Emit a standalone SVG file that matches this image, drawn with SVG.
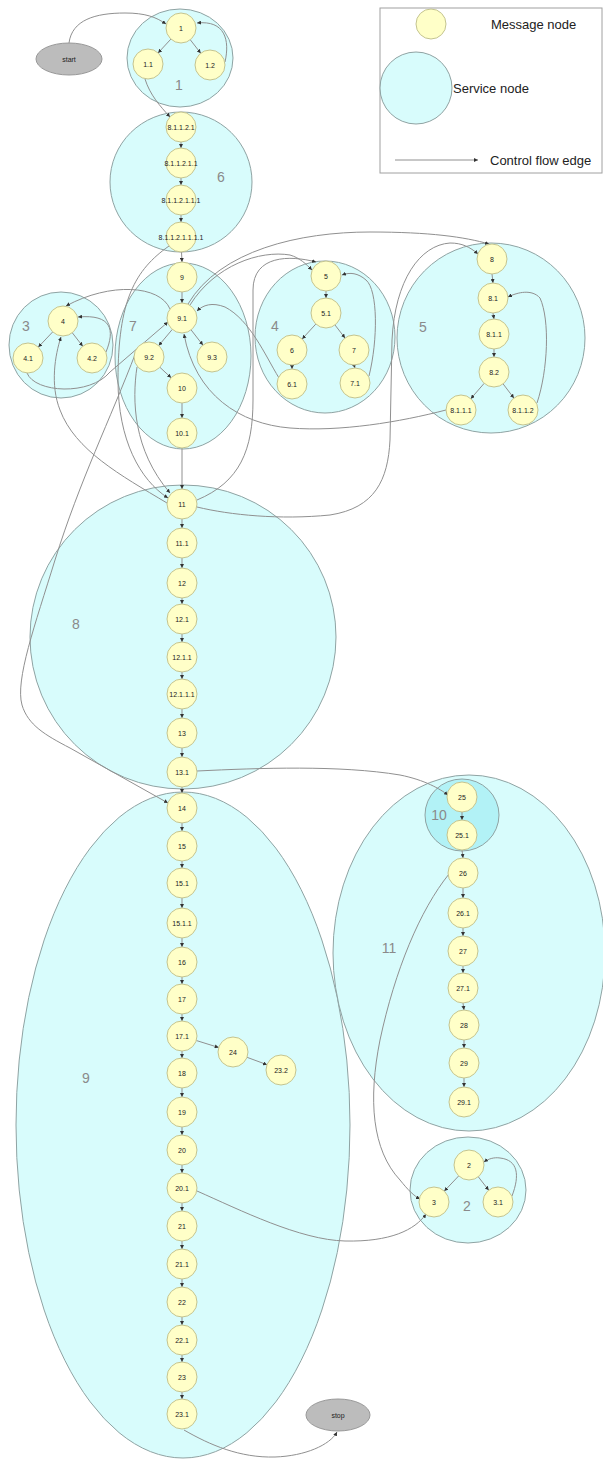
<svg xmlns="http://www.w3.org/2000/svg" width="603" height="1459" viewBox="0 0 603 1459">
<defs>
<marker id="ah" viewBox="0 0 6 6" refX="6" refY="3" markerWidth="4" markerHeight="4" orient="auto">
<path d="M0,0 L6,3 L0,6 z" fill="#333"/>
</marker>
<style>
.svc{fill:#d8fcfc;stroke:#8fa3a3;stroke-width:1}
.svc2{fill:#b2f2f6;stroke:#8fa3a3;stroke-width:1}
.sl{font-family:"Liberation Sans",Arial,sans-serif;font-size:14px;fill:#8a8a8a;text-anchor:middle}
.msg circle{fill:#ffffc8;stroke:#c4c490;stroke-width:1}
.msg text,.term text{font-family:"Liberation Sans",Arial,sans-serif;font-size:7px;fill:#222;text-anchor:middle}
.term ellipse{fill:#bcbcbc;stroke:#999;stroke-width:1}
#edges path,#edges line{fill:none;stroke:#909090;stroke-width:1;marker-end:url(#ah)}
.lg{font-family:"Liberation Sans",Arial,sans-serif;font-size:13px;fill:#222}
</style>
</defs>
<rect width="603" height="1459" fill="#ffffff"/>

<!-- service nodes -->
<g id="s1"><ellipse class="svc" cx="180" cy="58" rx="53" ry="49"/><text class="sl" x="179" y="90">1</text></g>
<g id="s6"><ellipse class="svc" cx="181" cy="182" rx="71" ry="70"/><text class="sl" x="221" y="182">6</text></g>
<g id="s3"><ellipse class="svc" cx="61" cy="345" rx="52" ry="53"/><text class="sl" x="26" y="331">3</text></g>
<g id="s7"><ellipse class="svc" cx="183" cy="356" rx="68" ry="93"/><text class="sl" x="133" y="331">7</text></g>
<g id="s4"><ellipse class="svc" cx="325" cy="337" rx="70" ry="76"/><text class="sl" x="275" y="331">4</text></g>
<g id="s5"><ellipse class="svc" cx="491" cy="338" rx="94" ry="95"/><text class="sl" x="423" y="332">5</text></g>
<g id="s8"><ellipse class="svc" cx="183" cy="637" rx="153" ry="152"/><text class="sl" x="76" y="629">8</text></g>
<g id="s9"><ellipse class="svc" cx="183" cy="1125" rx="167" ry="333"/><text class="sl" x="86" y="1083">9</text></g>
<g id="s11"><ellipse class="svc" cx="469" cy="953" rx="136" ry="178"/><text class="sl" x="389" y="953">11</text></g>
<g id="s10"><ellipse class="svc2" cx="462" cy="815" rx="37" ry="36"/><text class="sl" x="439" y="820">10</text></g>
<g id="s2"><ellipse class="svc" cx="468" cy="1190" rx="58" ry="53"/><text class="sl" x="467" y="1211">2</text></g>

<!-- connectors -->
<g id="edges">
<path d="M69,43 C72,20 95,13 125,13 C145,13 156,17 166,24"/>
<line x1="170.9" y1="39.1" x2="158.1" y2="52.9"/>
<line x1="190.3" y1="39.8" x2="200.7" y2="53.2"/>
<path d="M225,62 C230,40 225,20 197,23"/>
<path d="M145,79 C150,95 160,106 170,117"/>
<line x1="181" y1="142" x2="181" y2="148"/>
<line x1="181" y1="178" x2="181" y2="185"/>
<line x1="181" y1="215" x2="181" y2="222"/>
<line x1="181.5" y1="252" x2="182" y2="262"/>
<line x1="182" y1="292" x2="182" y2="303"/>
<line x1="172.3" y1="329.4" x2="158.7" y2="345.6"/>
<line x1="191.1" y1="329.9" x2="202.9" y2="345.1"/>
<line x1="159.9" y1="367.3" x2="171.1" y2="377.7"/>
<line x1="182" y1="403" x2="182" y2="418"/>
<line x1="182" y1="448" x2="182" y2="489"/>
<line x1="52.7" y1="331.9" x2="38.3" y2="347.1"/>
<line x1="72.3" y1="332.8" x2="82.7" y2="346.2"/>
<path d="M106,352 C115,330 112,314 78,317"/>
<path d="M27,373 C35,393 90,396 110,372 L168,322"/>
<path d="M170,309 C160,285 110,282 66,306"/>
<path d="M167,503 C120,475 75,450 60,410 C50,385 55,355 61,337"/>
<path d="M169,246 C135,270 118,300 118,380 C118,440 140,480 168,498"/>
<path d="M137,367 C132,400 133,450 170,493"/>
<path d="M136,352 C110,420 80,480 55,560 C35,625 15,680 22,705 C28,725 45,735 70,748 L168,803"/>
<line x1="326" y1="291" x2="326" y2="298"/>
<line x1="315.8" y1="324.1" x2="302.2" y2="338.9"/>
<line x1="335" y1="325" x2="345" y2="338"/>
<line x1="292" y1="365" x2="292" y2="369"/>
<line x1="354" y1="365" x2="355" y2="368"/>
<path d="M369,376 C378,340 378,290 366,280 C358,273 350,272 342,275"/>
<path d="M279,378 C265,355 250,320 225,307 C212,302 203,305 197,311"/>
<path d="M190,305 C215,265 260,250 290,255 C300,258 306,264 312,270"/>
<path d="M188,304 C220,250 300,232 370,232 C430,232 465,237 489,244"/>
<path d="M197,500 C240,482 253,450 253,400 L253,290 C253,255 290,255 316,262"/>
<path d="M197,507 C230,515 280,520 330,515 C375,508 388,480 390,440 L392,340 C395,280 420,245 450,243 C462,243 470,247 478,254"/>
<line x1="492" y1="274" x2="493" y2="283"/>
<line x1="493" y1="313" x2="494" y2="319"/>
<line x1="494" y1="349" x2="494" y2="357"/>
<line x1="484.2" y1="383.3" x2="470.8" y2="398.7"/>
<line x1="503.1" y1="383.9" x2="513.9" y2="398.1"/>
<path d="M537,403 C548,370 550,320 540,298 C532,289 518,292 508,297"/>
<path d="M446,410 C400,422 340,432 290,428 C240,424 195,395 184,334"/>
<line x1="182" y1="519" x2="182" y2="528"/>
<line x1="182" y1="558" x2="182" y2="568"/>
<line x1="182" y1="598" x2="182" y2="604"/>
<line x1="182" y1="634" x2="182" y2="642"/>
<line x1="182" y1="672" x2="182" y2="679"/>
<line x1="182" y1="709" x2="182" y2="718"/>
<line x1="182" y1="748" x2="182" y2="757"/>
<line x1="182" y1="787" x2="182" y2="793"/>
<path d="M197,771 C260,768 340,765 400,775 C425,780 440,789 448,795"/>
<line x1="182" y1="823" x2="182" y2="831"/>
<line x1="182" y1="861" x2="182" y2="868"/>
<line x1="182" y1="898" x2="182" y2="908"/>
<line x1="182" y1="938" x2="182" y2="947"/>
<line x1="182" y1="977" x2="182" y2="984"/>
<line x1="182" y1="1014" x2="182" y2="1021"/>
<line x1="182" y1="1051" x2="182" y2="1058"/>
<line x1="196.3" y1="1040.5" x2="218.7" y2="1047.5"/>
<line x1="247" y1="1057.3" x2="267" y2="1064.7"/>
<line x1="182" y1="1088" x2="182" y2="1097"/>
<line x1="182" y1="1127" x2="182" y2="1135"/>
<line x1="182" y1="1165" x2="182" y2="1173"/>
<line x1="182" y1="1203" x2="182" y2="1211"/>
<line x1="182" y1="1241" x2="182" y2="1249"/>
<line x1="182" y1="1279" x2="182" y2="1287"/>
<line x1="182" y1="1317" x2="182" y2="1325"/>
<line x1="182" y1="1355" x2="182" y2="1362"/>
<line x1="182" y1="1392" x2="182" y2="1399"/>
<path d="M197,1191 C240,1210 300,1240 345,1241 C390,1242 415,1230 426,1214"/>
<path d="M184,1430 C210,1445 240,1458 275,1457 C305,1456 330,1445 337,1432"/>
<line x1="462" y1="812" x2="462" y2="820"/>
<line x1="462" y1="850" x2="463" y2="858"/>
<line x1="463" y1="888" x2="463" y2="898"/>
<line x1="463" y1="928" x2="463" y2="936"/>
<line x1="463" y1="966" x2="463" y2="973"/>
<line x1="463" y1="1003" x2="464" y2="1010"/>
<line x1="464" y1="1040" x2="464" y2="1048"/>
<line x1="464" y1="1078" x2="464" y2="1087"/>
<path d="M449,874 C420,910 395,970 380,1040 C368,1100 372,1150 400,1180 C408,1190 414,1196 420,1199"/>
<line x1="458.7" y1="1175.9" x2="444.3" y2="1191.1"/>
<line x1="478.3" y1="1176.8" x2="488.7" y2="1190.2"/>
<path d="M512,1196 C520,1175 518,1160 500,1158 C494,1157 488,1159 484,1162"/>
</g>

<!-- start / stop -->
<g id="start" class="term"><ellipse cx="69" cy="59" rx="33" ry="16"/><text x="69" y="61.5">start</text></g>
<g id="stop" class="term"><ellipse cx="338" cy="1415" rx="32" ry="16"/><text x="338" y="1417.5">stop</text></g>

<!-- message nodes -->
<g id="m-1" class="msg"><circle cx="181" cy="28" r="15"/><text x="181" y="30.5">1</text></g>
<g id="m-1_1" class="msg"><circle cx="148" cy="64" r="15"/><text x="148" y="66.5">1.1</text></g>
<g id="m-1_2" class="msg"><circle cx="210" cy="65" r="15"/><text x="210" y="67.5">1.2</text></g>
<g id="m-8_1_1_2_1" class="msg"><circle cx="181" cy="127" r="15"/><text x="181" y="129.5">8.1.1.2.1</text></g>
<g id="m-8_1_1_2_1_1" class="msg"><circle cx="181" cy="163" r="15"/><text x="181" y="165.5">8.1.1.2.1.1</text></g>
<g id="m-8_1_1_2_1_1_1" class="msg"><circle cx="181" cy="200" r="15"/><text x="181" y="202.5">8.1.1.2.1.1.1</text></g>
<g id="m-8_1_1_2_1_1_1_1" class="msg"><circle cx="181" cy="237" r="15"/><text x="181" y="239.5">8.1.1.2.1.1.1.1</text></g>
<g id="m-9" class="msg"><circle cx="182" cy="277" r="15"/><text x="182" y="279.5">9</text></g>
<g id="m-9_1" class="msg"><circle cx="182" cy="318" r="15"/><text x="182" y="320.5">9.1</text></g>
<g id="m-9_2" class="msg"><circle cx="149" cy="357" r="15"/><text x="149" y="359.5">9.2</text></g>
<g id="m-9_3" class="msg"><circle cx="212" cy="357" r="15"/><text x="212" y="359.5">9.3</text></g>
<g id="m-10" class="msg"><circle cx="182" cy="388" r="15"/><text x="182" y="390.5">10</text></g>
<g id="m-10_1" class="msg"><circle cx="182" cy="433" r="15"/><text x="182" y="435.5">10.1</text></g>
<g id="m-4" class="msg"><circle cx="63" cy="321" r="15"/><text x="63" y="323.5">4</text></g>
<g id="m-4_1" class="msg"><circle cx="28" cy="358" r="15"/><text x="28" y="360.5">4.1</text></g>
<g id="m-4_2" class="msg"><circle cx="92" cy="358" r="15"/><text x="92" y="360.5">4.2</text></g>
<g id="m-5" class="msg"><circle cx="326" cy="276" r="15"/><text x="326" y="278.5">5</text></g>
<g id="m-5_1" class="msg"><circle cx="326" cy="313" r="15"/><text x="326" y="315.5">5.1</text></g>
<g id="m-6" class="msg"><circle cx="292" cy="350" r="15"/><text x="292" y="352.5">6</text></g>
<g id="m-7" class="msg"><circle cx="354" cy="350" r="15"/><text x="354" y="352.5">7</text></g>
<g id="m-6_1" class="msg"><circle cx="292" cy="384" r="15"/><text x="292" y="386.5">6.1</text></g>
<g id="m-7_1" class="msg"><circle cx="355" cy="383" r="15"/><text x="355" y="385.5">7.1</text></g>
<g id="m-8" class="msg"><circle cx="492" cy="259" r="15"/><text x="492" y="261.5">8</text></g>
<g id="m-8_1" class="msg"><circle cx="493" cy="298" r="15"/><text x="493" y="300.5">8.1</text></g>
<g id="m-8_1_1" class="msg"><circle cx="494" cy="334" r="15"/><text x="494" y="336.5">8.1.1</text></g>
<g id="m-8_2" class="msg"><circle cx="494" cy="372" r="15"/><text x="494" y="374.5">8.2</text></g>
<g id="m-8_1_1_1" class="msg"><circle cx="461" cy="410" r="15"/><text x="461" y="412.5">8.1.1.1</text></g>
<g id="m-8_1_1_2" class="msg"><circle cx="523" cy="410" r="15"/><text x="523" y="412.5">8.1.1.2</text></g>
<g id="m-11" class="msg"><circle cx="182" cy="504" r="15"/><text x="182" y="506.5">11</text></g>
<g id="m-11_1" class="msg"><circle cx="182" cy="543" r="15"/><text x="182" y="545.5">11.1</text></g>
<g id="m-12" class="msg"><circle cx="182" cy="583" r="15"/><text x="182" y="585.5">12</text></g>
<g id="m-12_1" class="msg"><circle cx="182" cy="619" r="15"/><text x="182" y="621.5">12.1</text></g>
<g id="m-12_1_1" class="msg"><circle cx="182" cy="657" r="15"/><text x="182" y="659.5">12.1.1</text></g>
<g id="m-12_1_1_1" class="msg"><circle cx="182" cy="694" r="15"/><text x="182" y="696.5">12.1.1.1</text></g>
<g id="m-13" class="msg"><circle cx="182" cy="733" r="15"/><text x="182" y="735.5">13</text></g>
<g id="m-13_1" class="msg"><circle cx="182" cy="772" r="15"/><text x="182" y="774.5">13.1</text></g>
<g id="m-14" class="msg"><circle cx="182" cy="808" r="15"/><text x="182" y="810.5">14</text></g>
<g id="m-15" class="msg"><circle cx="182" cy="846" r="15"/><text x="182" y="848.5">15</text></g>
<g id="m-15_1" class="msg"><circle cx="182" cy="883" r="15"/><text x="182" y="885.5">15.1</text></g>
<g id="m-15_1_1" class="msg"><circle cx="182" cy="923" r="15"/><text x="182" y="925.5">15.1.1</text></g>
<g id="m-16" class="msg"><circle cx="182" cy="962" r="15"/><text x="182" y="964.5">16</text></g>
<g id="m-17" class="msg"><circle cx="182" cy="999" r="15"/><text x="182" y="1001.5">17</text></g>
<g id="m-17_1" class="msg"><circle cx="182" cy="1036" r="15"/><text x="182" y="1038.5">17.1</text></g>
<g id="m-24" class="msg"><circle cx="233" cy="1052" r="15"/><text x="233" y="1054.5">24</text></g>
<g id="m-23_2" class="msg"><circle cx="281" cy="1070" r="15"/><text x="281" y="1072.5">23.2</text></g>
<g id="m-18" class="msg"><circle cx="182" cy="1073" r="15"/><text x="182" y="1075.5">18</text></g>
<g id="m-19" class="msg"><circle cx="182" cy="1112" r="15"/><text x="182" y="1114.5">19</text></g>
<g id="m-20" class="msg"><circle cx="182" cy="1150" r="15"/><text x="182" y="1152.5">20</text></g>
<g id="m-20_1" class="msg"><circle cx="182" cy="1188" r="15"/><text x="182" y="1190.5">20.1</text></g>
<g id="m-21" class="msg"><circle cx="182" cy="1226" r="15"/><text x="182" y="1228.5">21</text></g>
<g id="m-21_1" class="msg"><circle cx="182" cy="1264" r="15"/><text x="182" y="1266.5">21.1</text></g>
<g id="m-22" class="msg"><circle cx="182" cy="1302" r="15"/><text x="182" y="1304.5">22</text></g>
<g id="m-22_1" class="msg"><circle cx="182" cy="1340" r="15"/><text x="182" y="1342.5">22.1</text></g>
<g id="m-23" class="msg"><circle cx="182" cy="1377" r="15"/><text x="182" y="1379.5">23</text></g>
<g id="m-23_1" class="msg"><circle cx="182" cy="1414" r="15"/><text x="182" y="1416.5">23.1</text></g>
<g id="m-25" class="msg"><circle cx="462" cy="797" r="15"/><text x="462" y="799.5">25</text></g>
<g id="m-25_1" class="msg"><circle cx="462" cy="835" r="15"/><text x="462" y="837.5">25.1</text></g>
<g id="m-26" class="msg"><circle cx="463" cy="873" r="15"/><text x="463" y="875.5">26</text></g>
<g id="m-26_1" class="msg"><circle cx="463" cy="913" r="15"/><text x="463" y="915.5">26.1</text></g>
<g id="m-27" class="msg"><circle cx="463" cy="951" r="15"/><text x="463" y="953.5">27</text></g>
<g id="m-27_1" class="msg"><circle cx="463" cy="988" r="15"/><text x="463" y="990.5">27.1</text></g>
<g id="m-28" class="msg"><circle cx="464" cy="1025" r="15"/><text x="464" y="1027.5">28</text></g>
<g id="m-29" class="msg"><circle cx="464" cy="1063" r="15"/><text x="464" y="1065.5">29</text></g>
<g id="m-29_1" class="msg"><circle cx="464" cy="1102" r="15"/><text x="464" y="1104.5">29.1</text></g>
<g id="m-2" class="msg"><circle cx="469" cy="1165" r="15"/><text x="469" y="1167.5">2</text></g>
<g id="m-3" class="msg"><circle cx="434" cy="1202" r="15"/><text x="434" y="1204.5">3</text></g>
<g id="m-3_1" class="msg"><circle cx="498" cy="1202" r="15"/><text x="498" y="1204.5">3.1</text></g>

<!-- legend -->
<g id="legend">
<rect x="380" y="8" width="222" height="165" fill="#ffffff" stroke="#a0a0a0" stroke-width="1"/>
<circle cx="431" cy="24" r="15" fill="#ffffc8" stroke="#c4c490"/>
<text class="lg" x="491" y="29">Message node</text>
<circle cx="416" cy="88" r="36" fill="#d8fcfc" stroke="#8fa3a3"/>
<text class="lg" x="453" y="93">Service node</text>
<line x1="395" y1="160" x2="478" y2="160" stroke="#909090" stroke-width="1" marker-end="url(#ah)"/>
<text class="lg" x="490" y="165">Control flow edge</text>
</g>
</svg>
